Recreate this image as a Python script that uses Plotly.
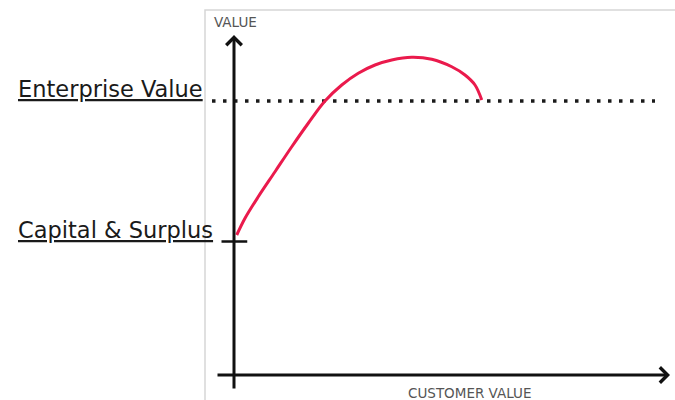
import plotly.graph_objects as go

# Niveles de referencia (eje vertical, "VALUE")
capital_surplus = 5.34
enterprise_value = 10.96

# Curva: valor de cliente frente a valor
customer_value = [0.11, 0.44, 0.97, 1.64, 2.31, 2.97, 3.64, 4.31, 4.97, 5.64,
                  6.31, 7.11, 7.91, 8.71, 9.24, 9.64, 9.91]
value = [5.6, 6.27, 7.13, 8.13, 9.13, 10.07, 10.96, 11.6, 12.07, 12.4,
         12.6, 12.71, 12.63, 12.33, 12.0, 11.6, 11.0]

# Extensión de los ejes y de la línea discontinua
x_axis_span = [-0.72, 17.44]
y_axis_span = [-0.6, 13.6]
dashed_span = [-0.88, 16.84]

fig = go.Figure()

# Línea punteada del valor empresarial
fig.add_trace(go.Scatter(
    x=dashed_span,
    y=[enterprise_value, enterprise_value],
    mode="lines",
    line=dict(color="#1a1a1a", width=3.5, dash="3.5px,7.5px"),
    hoverinfo="skip"
))

# Curva roja
fig.add_trace(go.Scatter(
    x=customer_value,
    y=value,
    mode="lines",
    line=dict(color="#ea1a4c", width=3, shape="spline", smoothing=1),
    hoverinfo="skip"
))

# Marco gris claro
fig.add_shape(type="rect", x0=-1.16, x1=18.5, y0=-2, y1=14.6,
              line=dict(color="#d6d6d6", width=1.5), layer="below")

# Marca de capital
fig.add_shape(type="line", x0=-0.5, x1=0.53, y0=capital_surplus, y1=capital_surplus,
              line=dict(color="#111111", width=2.5))

# Ejes con flecha
fig.add_annotation(x=0, y=y_axis_span[1], ax=0, ay=y_axis_span[0],
                   xref="x", yref="y", axref="x", ayref="y", text="",
                   showarrow=True, arrowhead=4, arrowsize=1, arrowwidth=3,
                   arrowcolor="#111111")
fig.add_annotation(x=x_axis_span[1], y=0, ax=x_axis_span[0], ay=0,
                   xref="x", yref="y", axref="x", ayref="y", text="",
                   showarrow=True, arrowhead=4, arrowsize=1, arrowwidth=3,
                   arrowcolor="#111111")

# Etiquetas
etiquetas = [
    ("<u>Enterprise Value</u>", -8.72, 11.44, 22.5, "#1a1a1a"),
    ("<u>Capital & Surplus</u>", -8.72, 5.82, 22.5, "#1a1a1a"),
    ("VALUE", -0.88, 14.12, 13.5, "#555555"),
    ("CUSTOMER VALUE", 6.88, -0.72, 13.5, "#555555"),
]
for texto, x, y, tam, color in etiquetas:
    fig.add_annotation(x=x, y=y, xref="x", yref="y", text=texto,
                       showarrow=False, xanchor="left", yanchor="middle",
                       font=dict(family="DejaVu Sans", size=tam, color=color))

fig.update_layout(
    width=675,
    height=400,
    margin=dict(l=0, r=0, t=0, b=0),
    paper_bgcolor="white",
    plot_bgcolor="white",
    showlegend=False,
    xaxis=dict(range=[-9.36, 17.64], visible=False, fixedrange=True),
    yaxis=dict(range=[-1, 15], visible=False, fixedrange=True),
)

# Sin margen del body para que el gráfico empiece en la esquina
fig.write_html("out.html", config={"displayModeBar": False},
               post_script="document.body.style.margin='0';")
